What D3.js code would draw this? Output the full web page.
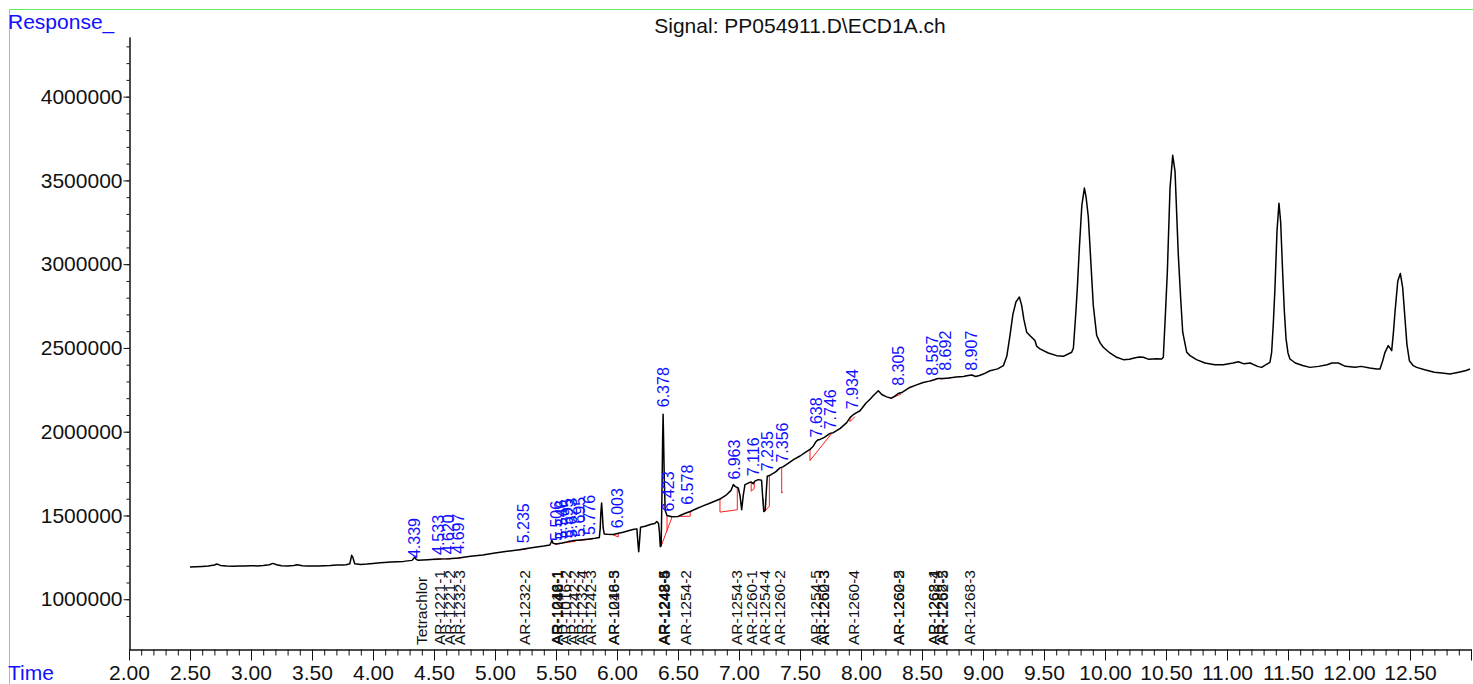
<!DOCTYPE html>
<html>
<head>
<meta charset="utf-8">
<script src="https://cdn.jsdelivr.net/npm/d3@7"></script>
<style>
  body { margin: 0; background: #fff; }
  svg { display: block; font-family: "Liberation Sans", Arial, sans-serif; }
</style>
</head>
<body>
<svg></svg>
<script>
// signal trace, [time (min), response]
let signal = [
  [2.50,1192000],[2.55,1194000],[2.60,1196000],[2.65,1198000],[2.70,1204000],[2.72,1210000],[2.75,1202000],
  [2.80,1198000],[2.85,1197000],[2.90,1199000],[2.95,1198000],[3.00,1200000],[3.05,1199000],[3.10,1201000],
  [3.15,1206000],[3.18,1214000],[3.21,1206000],[3.25,1200000],[3.30,1198000],[3.35,1201000],[3.38,1206000],
  [3.42,1200000],[3.46,1198000],[3.50,1199000],[3.55,1198000],[3.60,1200000],[3.65,1201000],[3.70,1204000],
  [3.75,1205000],[3.78,1206000],[3.81,1212000],[3.825,1262000],[3.835,1250000],[3.85,1212000],[3.90,1208000],
  [3.95,1210000],[4.00,1214000],[4.06,1218000],[4.15,1222000],[4.25,1226000],[4.32,1232000],[4.335,1245000],
  [4.342,1254000],[4.352,1240000],[4.37,1232000],[4.45,1236000],[4.53,1240000],[4.62,1242000],[4.70,1246000],
  [4.80,1256000],[4.90,1264000],[5.00,1276000],[5.10,1286000],[5.20,1296000],[5.235,1300000],[5.30,1308000],
  [5.40,1318000],[5.45,1324000],[5.46,1340000],[5.466,1352000],[5.475,1335000],[5.50,1330000],[5.55,1336000],
  [5.60,1344000],[5.65,1350000],[5.70,1354000],[5.776,1360000],[5.82,1364000],[5.855,1368000],[5.862,1420000],
  [5.868,1520000],[5.874,1574000],[5.880,1510000],[5.886,1430000],[5.895,1390000],[5.92,1388000],[5.97,1386000],
  [6.003,1392000],[6.05,1400000],[6.10,1410000],[6.14,1418000],[6.163,1420000],[6.171,1340000],[6.178,1284000],
  [6.185,1350000],[6.193,1430000],[6.23,1436000],[6.28,1448000],[6.31,1452000],[6.326,1464000],[6.34,1454000],
  [6.348,1400000],[6.355,1314000],[6.362,1320000],[6.368,1600000],[6.374,1950000],[6.378,2104000],[6.382,1950000],
  [6.388,1700000],[6.395,1530000],[6.41,1500000],[6.45,1492000],[6.50,1494000],[6.55,1510000],[6.60,1524000],
  [6.65,1540000],[6.70,1556000],[6.75,1570000],[6.80,1585000],[6.844,1598000],[6.90,1625000],[6.935,1650000],
  [6.953,1684000],[6.97,1672000],[6.994,1664000],[7.008,1620000],[7.022,1534000],[7.035,1620000],[7.049,1684000],
  [7.08,1695000],[7.10,1700000],[7.116,1690000],[7.13,1705000],[7.158,1714000],[7.185,1710000],[7.195,1600000],
  [7.203,1524000],[7.215,1530000],[7.225,1660000],[7.232,1734000],[7.26,1742000],[7.30,1760000],[7.336,1784000],
  [7.36,1790000],[7.40,1810000],[7.45,1835000],[7.50,1855000],[7.55,1880000],[7.582,1894000],[7.61,1915000],
  [7.63,1940000],[7.645,1950000],[7.664,1954000],[7.70,1966000],[7.746,1990000],[7.773,1994000],[7.83,2020000],
  [7.883,2054000],[7.91,2084000],[7.934,2100000],[7.964,2114000],[7.992,2125000],[8.04,2170000],[8.074,2194000],
  [8.10,2215000],[8.142,2244000],[8.17,2222000],[8.21,2208000],[8.25,2200000],[8.28,2214000],[8.305,2228000],
  [8.34,2236000],[8.40,2264000],[8.45,2278000],[8.51,2294000],[8.56,2302000],[8.60,2310000],[8.63,2318000],
  [8.675,2318000],[8.72,2320000],[8.78,2326000],[8.84,2330000],[8.866,2334000],[8.907,2338000],[8.94,2330000],
  [8.97,2336000],[9.003,2344000],[9.057,2364000],[9.12,2375000],[9.167,2394000],[9.195,2450000],[9.221,2574000],
  [9.245,2700000],[9.27,2774000],[9.285,2790000],[9.298,2804000],[9.317,2754000],[9.335,2670000],[9.358,2594000],
  [9.39,2570000],[9.426,2544000],[9.44,2510000],[9.467,2494000],[9.535,2470000],[9.604,2454000],[9.658,2450000],
  [9.727,2474000],[9.741,2500000],[9.76,2700000],[9.773,2854000],[9.79,3100000],[9.81,3350000],[9.831,3454000],
  [9.845,3400000],[9.863,3284000],[9.885,3000000],[9.904,2754000],[9.932,2574000],[9.96,2530000],[9.986,2504000],
  [10.04,2470000],[10.096,2444000],[10.15,2430000],[10.20,2432000],[10.24,2440000],[10.28,2446000],[10.314,2444000],
  [10.36,2432000],[10.42,2436000],[10.465,2434000],[10.478,2444000],[10.495,2700000],[10.511,2954000],[10.533,3454000],
  [10.555,3650000],[10.574,3554000],[10.601,3054000],[10.62,2800000],[10.637,2594000],[10.67,2474000],[10.697,2454000],
  [10.75,2430000],[10.82,2410000],[10.90,2400000],[10.97,2400000],[11.05,2410000],[11.093,2418000],[11.14,2405000],
  [11.19,2410000],[11.25,2390000],[11.284,2384000],[11.32,2400000],[11.352,2414000],[11.366,2474000],[11.38,2650000],
  [11.393,2854000],[11.41,3200000],[11.426,3364000],[11.44,3250000],[11.456,2954000],[11.47,2720000],[11.484,2554000],
  [11.50,2470000],[11.516,2434000],[11.56,2410000],[11.62,2395000],[11.68,2384000],[11.75,2390000],[11.82,2400000],
  [11.86,2410000],[11.913,2410000],[11.97,2390000],[12.05,2385000],[12.10,2390000],[12.17,2380000],[12.227,2374000],
  [12.254,2374000],[12.275,2420000],[12.295,2474000],[12.322,2514000],[12.335,2500000],[12.35,2484000],[12.365,2600000],
  [12.377,2714000],[12.40,2900000],[12.421,2944000],[12.44,2860000],[12.459,2674000],[12.475,2520000],[12.495,2424000],
  [12.527,2394000],[12.555,2384000],[12.62,2370000],[12.70,2355000],[12.76,2350000],[12.828,2344000],[12.90,2355000],
  [12.96,2365000],[12.992,2374000]
];

// integration baselines (red)
let baselines = [
  [[4.50,1236000],[4.56,1238000]],
  [[4.60,1240000],[4.64,1242000]],
  [[4.68,1244000],[4.72,1246000]],
  [[5.20,1294000],[5.26,1300000]],
  [[5.49,1328000],[5.55,1334000]],
  [[5.56,1336000],[5.66,1346000]],
  [[5.68,1350000],[5.80,1360000]],
  [[5.97,1384000],[6.01,1372000],[6.01,1392000]],
  [[6.41,1500000],[6.41,1410000]],
  [[6.36,1314000],[6.448,1484000],[6.448,1494000]],
  [[6.52,1494000],[6.60,1496000],[6.60,1524000]],
  [[6.844,1598000],[6.844,1520000],[6.986,1534000],[6.986,1664000]],
  [[7.10,1700000],[7.10,1645000],[7.125,1660000],[7.125,1700000]],
  [[7.20,1600000],[7.205,1520000],[7.249,1556000],[7.249,1740000]],
  [[7.35,1788000],[7.35,1634000],[7.36,1640000]],
  [[7.582,1894000],[7.582,1828000],[7.76,1990000]],
  [[7.91,2084000],[7.91,2060000],[7.95,2090000]],
  [[8.25,2200000],[8.33,2226000]],
  [[8.57,2300000],[8.60,2310000]],
  [[8.65,2315000],[8.73,2320000]],
  [[8.866,2334000],[8.92,2338000]]
];

// peak retention time labels (blue) and the response level where each label starts
let peakRT = ['4.339','4.533','4.620','4.697','5.235','5.506','5.546','5.595','5.623','5.695','5.776','6.003',
  '6.378','6.423','6.578','6.963','7.116','7.235','7.356','7.638','7.746','7.934','8.305','8.587','8.692','8.907'];
let peakBase = [1246000,1264000,1268000,1272000,1334000,1348000,1356000,1362000,1366000,1372000,1384000,1424000,
  2146000,1524000,1564000,1714000,1734000,1764000,1816000,1966000,2014000,2134000,2274000,2334000,2364000,2364000];

// compound names (black) and their expected times
let compoundNames = ['Tetrachlor','AR-1221-1','AR-1221-2','AR-1232-3','AR-1232-2','AR-1016-1','AR-1242-1','AR-1248-1',
  'AR-1016-2','AR-1242-2','AR-1232-4','AR-1242-3','AR-1016-5','AR-1248-3','AR-1248-4','AR-1242-5','AR-1248-5',
  'AR-1254-2','AR-1254-3','AR-1260-1','AR-1254-4','AR-1260-2','AR-1254-5','AR-1260-3','AR-1262-3','AR-1260-4',
  'AR-1260-5','AR-1262-2','AR-1268-1','AR-1262-4','AR-1268-2','AR-1262-5','AR-1268-3'];
let compoundRT = [4.398,4.549,4.626,4.707,5.238,5.502,5.506,5.510,5.574,5.642,5.710,5.779,5.970,5.975,6.378,6.382,6.386,
  6.565,6.981,7.104,7.213,7.336,7.623,7.691,7.695,7.937,8.306,8.310,8.593,8.597,8.660,8.664,8.893];

let xTicks = [2,2.5,3,3.5,4,4.5,5,5.5,6,6.5,7,7.5,8,8.5,9,9.5,10,10.5,11,11.5,12,12.5,13];
let yTicks = [1000000,1500000,2000000,2500000,3000000,3500000,4000000];

let width = 1473;
let height = 684;
let blue = '#1010ff';

let svg = d3.select('svg').attr('width', width).attr('height', height);

let xScale = d3.scaleLinear().domain([2, 13]).range([129, 1471]);
let yScale = d3.scaleLinear().domain([700000, 4356000]).range([649.5, 37]);

// green frame
svg.append('path')
  .attr('d', 'M9.5,' + height + 'V9.5H' + width)
  .attr('fill', 'none')
  .attr('stroke', '#5fef5f')
  .attr('stroke-width', 1);

// axes
let styleAxis = (g) => {
  g.attr('font-family', '"Liberation Sans", Arial, sans-serif').attr('font-size', 21);
  g.selectAll('text').attr('fill', '#111');
  g.selectAll('line,path').attr('stroke', '#111');
};

let xMinor = d3.range(21, 131).map(d => d / 10);
svg.append('g')
  .attr('transform', 'translate(0,649.5)')
  .call(d3.axisBottom(xScale).tickValues(xMinor).tickSize(6).tickSizeOuter(0).tickFormat(''))
  .call(styleAxis);
svg.append('g')
  .attr('transform', 'translate(0,649.5)')
  .call(d3.axisBottom(xScale).tickValues(xTicks).tickSize(11).tickSizeOuter(0).tickPadding(5)
    .tickFormat(d => d < 13 ? d3.format('.2f')(d) : ''))
  .call(styleAxis);

let yMinor = d3.range(9, 44).map(d => d * 100000);
svg.append('g')
  .attr('transform', 'translate(129.5,0)')
  .call(d3.axisLeft(yScale).tickValues(yMinor).tickSize(3).tickSizeOuter(0).tickFormat(''))
  .call(styleAxis);
svg.append('g')
  .attr('transform', 'translate(129.5,0)')
  .call(d3.axisLeft(yScale).tickValues(yTicks).tickSize(6).tickSizeOuter(0).tickPadding(1).tickFormat(d3.format('d')))
  .call(styleAxis);

// integration baselines
let line = d3.line().x(d => xScale(d[0])).y(d => yScale(d[1]));
svg.append('g').selectAll('path')
  .data(baselines)
  .enter()
  .append('path')
  .attr('d', line)
  .attr('fill', 'none')
  .attr('stroke', '#ff1a1a')
  .attr('stroke-width', 1);

// trace
svg.append('path')
  .datum(signal)
  .attr('d', line)
  .attr('fill', 'none')
  .attr('stroke', '#000')
  .attr('stroke-width', 1.5)
  .attr('stroke-linejoin', 'round');

// peak labels
svg.append('g').selectAll('text')
  .data(peakRT)
  .enter()
  .append('text')
  .attr('transform', (d, i) => 'translate(' + xScale(+d) + ',' + yScale(peakBase[i]) + ') rotate(-90)')
  .attr('dominant-baseline', 'central')
  .attr('font-size', 16)
  .attr('fill', blue)
  .text(d => d);

// compound labels
svg.append('g').selectAll('text')
  .data(compoundNames)
  .enter()
  .append('text')
  .attr('transform', (d, i) => 'translate(' + xScale(compoundRT[i]) + ',645) rotate(-90)')
  .attr('dominant-baseline', 'central')
  .attr('font-size', 15.5)
  .attr('fill', '#111')
  .text(d => d);

// titles
svg.append('text')
  .attr('x', 800).attr('y', 33)
  .attr('text-anchor', 'middle')
  .attr('font-size', 21)
  .attr('fill', '#111')
  .text('Signal: PP054911.D\\ECD1A.ch');

svg.append('text')
  .attr('x', 8).attr('y', 29)
  .attr('font-size', 21)
  .attr('fill', blue)
  .text('Response_');

svg.append('text')
  .attr('x', 8).attr('y', 680)
  .attr('font-size', 21)
  .attr('fill', blue)
  .text('Time');
</script>
</body>
</html>
